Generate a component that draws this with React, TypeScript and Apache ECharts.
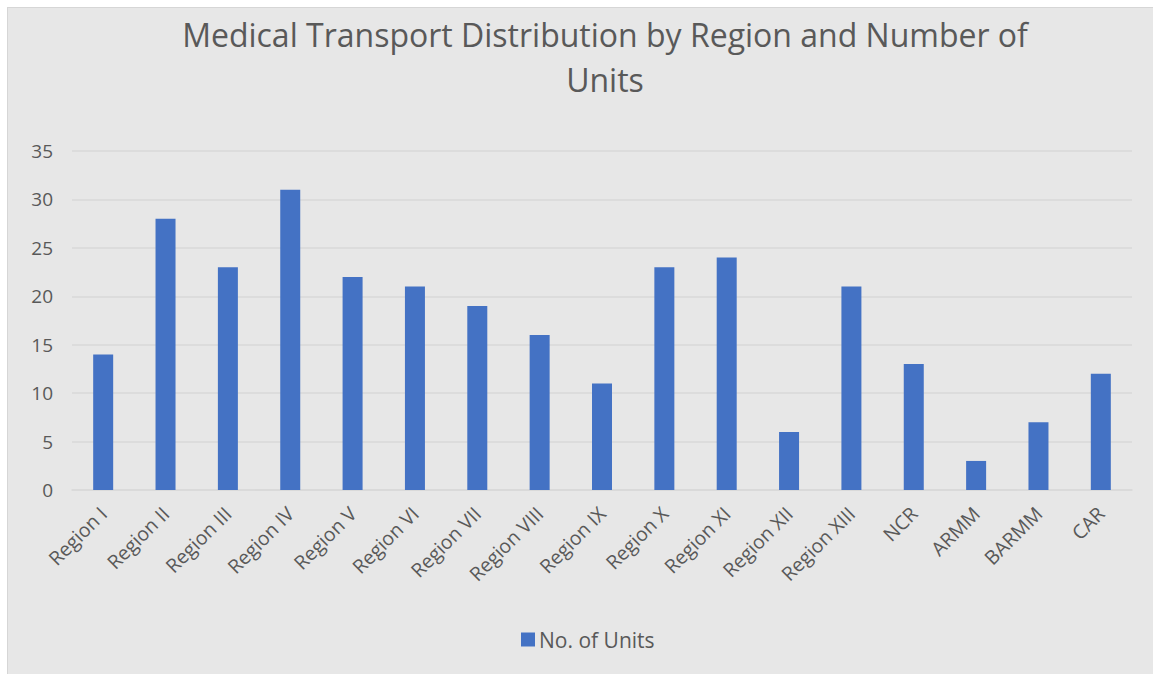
import React, { useEffect, useRef } from "react";
import * as echarts from "echarts";

const categories = [
  "Region I", "Region II", "Region III", "Region IV", "Region V", "Region VI",
  "Region VII", "Region VIII", "Region IX", "Region X", "Region XI", "Region XII",
  "Region XIII", "NCR", "ARMM", "BARMM", "CAR",
];
const units = [14, 28, 23, 31, 22, 21, 19, 16, 11, 23, 24, 6, 21, 13, 3, 7, 12];
const seriesName = "No. of Units";
const titleLines = ["Medical Transport Distribution by Region and Number of", "Units"];

export default function App() {
  const ref = useRef<HTMLDivElement>(null);
  useEffect(() => {
    if (!ref.current) return;
    const chart = echarts.init(ref.current, null, { renderer: "svg" });
    const font = "'Open Sans', sans-serif";
    chart.setOption({
      animation: false,
      backgroundColor: "transparent",
      title: {
        text: titleLines.join("\n"),
        left: 598,
        top: 5,
        padding: 0,
        textAlign: "center",
        textStyle: {
          fontFamily: font,
          fontSize: 32,
          fontWeight: "normal",
          color: "#595959",
          lineHeight: 45,
        },
      },
      legend: {
        top: 622,
        left: 514,
        padding: 0,
        itemWidth: 14,
        itemHeight: 14,
        itemGap: 6,
        icon: "rect",
        textStyle: { fontFamily: font, fontSize: 21, color: "#595959", padding: [0, 0, 0, -1] },
        data: [seriesName],
      },
      grid: { left: 65, right: 21, top: 144, bottom: 184, containLabel: false },
      xAxis: {
        type: "category",
        data: categories,
        axisLine: { show: true, lineStyle: { color: "#d9d9d9", width: 1.5 } },
        axisTick: { show: false },
        axisLabel: {
          rotate: 45,
          interval: 0,
          fontFamily: font,
          fontSize: 19.5,
          color: "#595959",
          margin: 20,
        },
      },
      yAxis: {
        type: "value",
        min: 0,
        max: 35,
        interval: 5,
        axisLine: { show: false },
        axisTick: { show: false },
        splitLine: { lineStyle: { color: "#d9d9d9", width: 1.5 } },
        axisLabel: {
          fontFamily: font,
          fontSize: 19,
          color: "#595959",
          margin: 19,
        },
      },
      series: [
        {
          name: seriesName,
          type: "bar",
          data: units,
          barWidth: 20,
          itemStyle: { color: "#4472C4" },
        },
      ],
    });
    return () => chart.dispose();
  }, []);
  return (
    <div style={{ position: "absolute", left: 0, top: 0, width: 1153, height: 674, background: "#fff", overflow: "hidden" }}>
      <div
        style={{
          position: "absolute",
          left: 7,
          top: 7,
          width: 1160,
          height: 680,
          background: "#e7e7e7",
          borderLeft: "1.5px solid #d6d6d6",
          borderTop: "1.5px solid #d6d6d6",
        }}
      />
      <div ref={ref} style={{ position: "absolute", left: 7, top: 7, width: 1146, height: 667 }} />
    </div>
  );
}
